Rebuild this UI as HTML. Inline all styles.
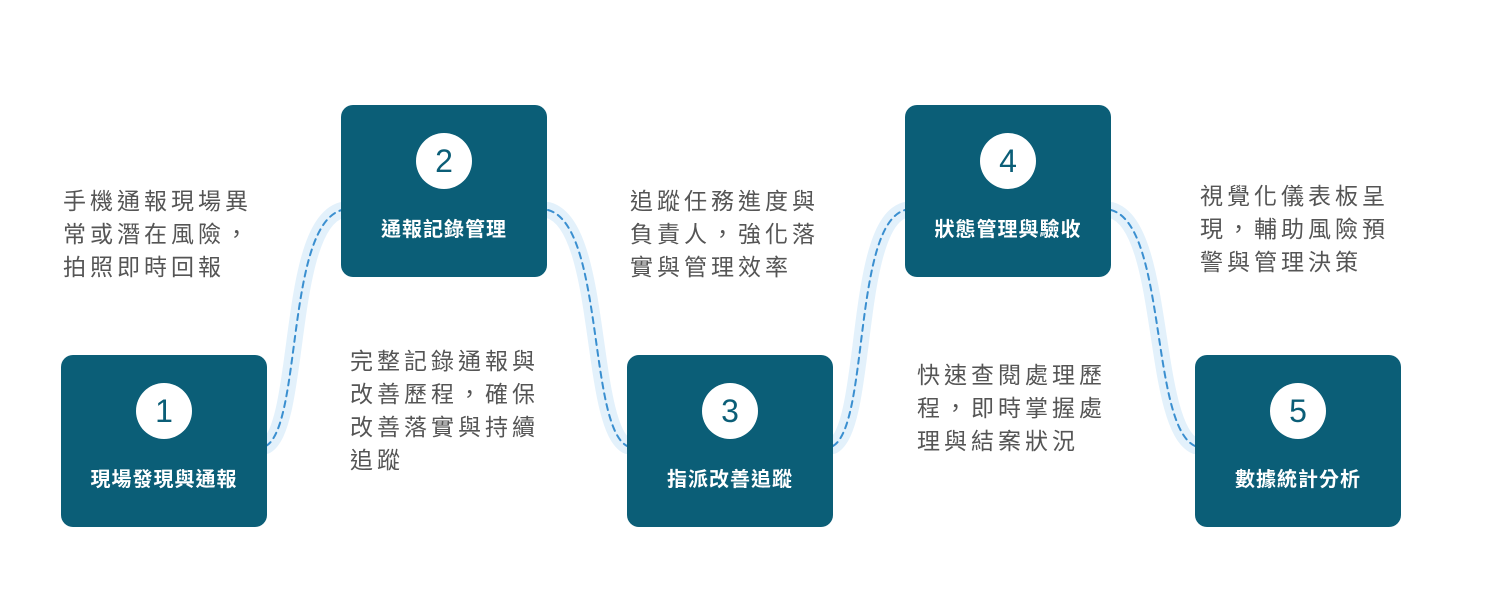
<!DOCTYPE html>
<html><head><meta charset="utf-8"><style>
body{margin:0;width:1510px;height:603px;background:#fff;position:relative;overflow:hidden;font-family:"Liberation Sans","Noto Sans CJK TC",sans-serif}
.box{position:absolute;width:206px;height:172px;background:#0b5e77;border-radius:12px;color:#fff}
.c{position:absolute;left:75px;top:28px;width:56px;height:56px;border-radius:50%;background:#fff;color:#0b5e77;font-size:32px;line-height:56px;text-align:center}
.l{position:absolute;left:0;right:0;top:108px;text-align:center;font-size:20px;font-weight:bold;letter-spacing:1px}
.t{position:absolute;color:#555;font-size:23px;line-height:33px;letter-spacing:4px}
svg{position:absolute;left:0;top:0}
</style></head><body>
<svg width="1510" height="603">
<g fill="none" stroke-linecap="round">
<g stroke="#e3f1fb" stroke-width="16">
<path d="M266,446 C302,425 286,225 342,210"/>
<path d="M548,210 C604,225 588,425 627,446"/>
<path d="M833,446 C869,425 853,225 905,210"/>
<path d="M1111,210 C1167,225 1150,425 1195,446"/>
</g>
<g stroke="#3a8fd0" stroke-width="2" stroke-dasharray="6,5">
<path d="M266,446 C302,425 286,225 342,210"/>
<path d="M548,210 C604,225 588,425 627,446"/>
<path d="M833,446 C869,425 853,225 905,210"/>
<path d="M1111,210 C1167,225 1150,425 1195,446"/>
</g></g></svg>
<div class="box" style="left:61px;top:355px"><div class="c">1</div><div class="l">現場發現與通報</div></div>
<div class="box" style="left:341px;top:105px"><div class="c">2</div><div class="l">通報記錄管理</div></div>
<div class="box" style="left:627px;top:355px"><div class="c">3</div><div class="l">指派改善追蹤</div></div>
<div class="box" style="left:905px;top:105px"><div class="c">4</div><div class="l">狀態管理與驗收</div></div>
<div class="box" style="left:1195px;top:355px"><div class="c">5</div><div class="l">數據統計分析</div></div>
<div class="t" style="left:63px;top:185px">手機通報現場異<br>常或潛在風險，<br>拍照即時回報</div>
<div class="t" style="left:350px;top:345px">完整記錄通報與<br>改善歷程，確保<br>改善落實與持續<br>追蹤</div>
<div class="t" style="left:630px;top:185px">追蹤任務進度與<br>負責人，強化落<br>實與管理效率</div>
<div class="t" style="left:917px;top:359px">快速查閱處理歷<br>程，即時掌握處<br>理與結案狀況</div>
<div class="t" style="left:1200px;top:180px">視覺化儀表板呈<br>現，輔助風險預<br>警與管理決策</div>
</body></html>
